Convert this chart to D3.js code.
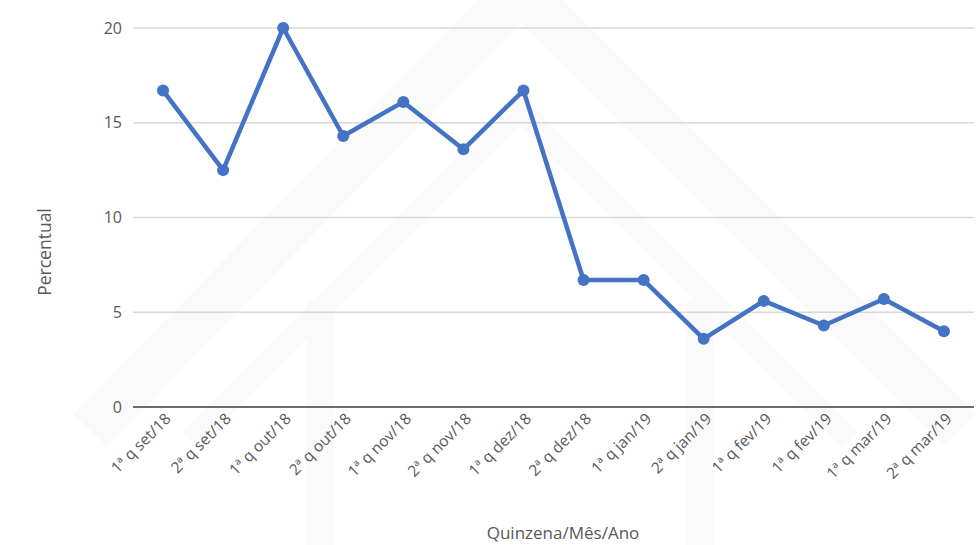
<!DOCTYPE html>
<html>
<head>
<meta charset="utf-8">
<script src="https://cdn.jsdelivr.net/npm/d3@7/dist/d3.min.js"></script>
<style>
  html, body { margin: 0; padding: 0; background: #fff; }
  svg { display: block; }
  text { font-family: "Open Sans", "Noto Sans", sans-serif; fill: #595959; }
</style>
</head>
<body>
<svg id="chart" width="978" height="545"></svg>
<script>
// Quinzenas (two-week periods) from Sep/2018 to Mar/2019
const categories = [
  "1ª q set/18", "2ª q set/18", "1ª q out/18", "2ª q out/18",
  "1ª q nov/18", "2ª q nov/18", "1ª q dez/18", "2ª q dez/18",
  "1ª q jan/19", "2ª q jan/19", "1ª q fev/19", "1ª q fev/19",
  "1ª q mar/19", "2ª q mar/19"
];
// Percentual per quinzena
const values = [16.7, 12.5, 20.0, 14.3, 16.1, 13.6, 16.7, 6.7, 6.7, 3.6, 5.6, 4.3, 5.7, 4.0];
const yTicks = [0, 5, 10, 15, 20];

const svg = d3.select("#chart");
const plot = { left: 133, right: 974, top: 28, bottom: 407 };

// faint background emblem
const bg = svg.append("g").attr("fill", "none").attr("stroke", "#fafafa");
bg.append("polyline")
  .attr("points", "90,430 520,-10 960,430")
  .attr("stroke-width", 46);
bg.append("polyline")
  .attr("points", "190,440 520,110 850,440")
  .attr("stroke-width", 22);
bg.append("line").attr("x1", 320).attr("x2", 320).attr("y1", 300).attr("y2", 545).attr("stroke-width", 26);
bg.append("line").attr("x1", 700).attr("x2", 700).attr("y1", 300).attr("y2", 545).attr("stroke-width", 26);

const x = d3.scaleBand()
  .domain(d3.range(categories.length))
  .range([plot.left, plot.right]);

const y = d3.scaleLinear()
  .domain([0, 20])
  .range([plot.bottom, plot.top]);

// horizontal gridlines
svg.append("g")
  .selectAll("line")
  .data(yTicks.filter(d => d !== 0))
  .join("line")
  .attr("x1", plot.left).attr("x2", plot.right)
  .attr("y1", d => y(d)).attr("y2", d => y(d))
  .attr("stroke", "#d9d9d9").attr("stroke-width", 1.3);

// y axis labels
const yAxis = svg.append("g")
  .attr("transform", `translate(${plot.left},0)`)
  .call(d3.axisLeft(y).tickValues(yTicks).tickSize(0).tickPadding(11));
yAxis.select(".domain").remove();
yAxis.selectAll("text")
  .attr("font-size", 16)
  .attr("fill", "#595959")
  .style("font-family", "'Open Sans', sans-serif");

// baseline
svg.append("line")
  .attr("x1", plot.left).attr("x2", plot.right)
  .attr("y1", y(0)).attr("y2", y(0))
  .attr("stroke", "#6b6b6b").attr("stroke-width", 2);

// x axis labels, rotated
const xAxis = svg.append("g")
  .attr("transform", `translate(0,${plot.bottom})`)
  .call(d3.axisBottom(x).tickFormat(i => categories[i]).tickSize(0));
xAxis.select(".domain").remove();
xAxis.selectAll("text")
  .attr("font-size", 15.5)
  .attr("fill", "#595959")
  .style("font-family", "'Open Sans', sans-serif")
  .attr("text-anchor", "end")
  .attr("y", 0)
  .attr("dy", "0.35em")
  .attr("transform", "translate(5,9) rotate(-45)");

// series line
const line = d3.line()
  .x((d, i) => x(i) + x.bandwidth() / 2)
  .y(d => y(d));

svg.append("path")
  .datum(values)
  .attr("d", line)
  .attr("fill", "none")
  .attr("stroke", "#4472c4")
  .attr("stroke-width", 4.5)
  .attr("stroke-linejoin", "round");

svg.append("g")
  .selectAll("circle")
  .data(values)
  .join("circle")
  .attr("cx", (d, i) => x(i) + x.bandwidth() / 2)
  .attr("cy", d => y(d))
  .attr("r", 6)
  .attr("fill", "#4472c4");

// axis titles
svg.append("text")
  .attr("x", 563)
  .attr("y", 539)
  .attr("text-anchor", "middle")
  .attr("font-size", 17)
  .text("Quinzena/Mês/Ano");

svg.append("text")
  .attr("transform", `translate(51,252) rotate(-90)`)
  .attr("text-anchor", "middle")
  .attr("font-size", 17.5)
  .text("Percentual");
</script>
</body>
</html>
